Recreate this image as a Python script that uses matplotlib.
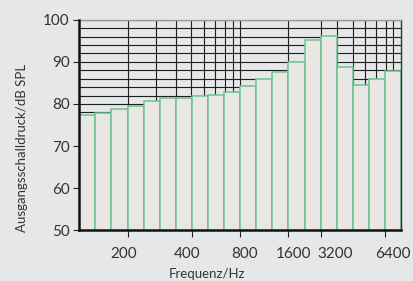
import matplotlib
matplotlib.use("Agg")
import matplotlib.pyplot as plt
import numpy as np

# third-octave bands and measured output level
bands = [100, 125, 160, 200, 250, 315, 400, 500, 630, 800,
         1000, 1250, 1600, 2000, 2500, 3150, 4000, 5000, 6300, 8000]
spl = [77.4, 77.9, 78.8, 79.5, 80.7, 81.4, 81.5, 82.0, 82.1, 82.9,
       84.2, 86.0, 87.6, 90.0, 95.1, 96.1, 88.8, 84.5, 85.9, 87.9]

tick_labels = ["200", "400", "800", "1600", "3200", "6400"]
tick_pos = [3, 7, 10, 13, 15, 19]
# labels in the original sit a bit off their tick marks
label_pos = [2.76, 6.73, 10.3, 13.32, 15.9, 19.5]

# vertical grid (log-ish grid of the original, in band index units)
grid_x = [3, 4.75, 6, 6.94, 7.77, 8.44, 9.04, 9.56, 10,
          13, 15, 16, 17, 17.78, 18.43, 19.05, 19.48]

bg = "#e6e7e9"
txt = "#333333"
plt.rcParams['font.family'] = ['Lato', 'DejaVu Sans']

fig = plt.figure(figsize=(4.13, 2.81), dpi=100, facecolor=bg)
ax = fig.add_axes([0.192, 0.180, 0.779, 0.750])
ax.set_facecolor(bg)

x = np.arange(len(bands))

# grid first, bars are opaque and cover it
for gy in range(50, 101, 2):
    ax.axhline(gy, color="#1e1e1e", lw=0.8, zorder=1)
for gx in grid_x:
    ax.axvline(gx, color="#1e1e1e", lw=0.8, zorder=1)

ax.bar(x, spl, width=1.0, align="edge", color="#e9e7e4",
       edgecolor="#6cc28d", linewidth=1.1, zorder=2)

ax.set_xlim(0, 20)
ax.set_ylim(50, 100)
ax.set_yticks(range(50, 101, 10))

# tick marks (major, no text) and labels (minor, no mark)
ax.set_xticks(tick_pos)
ax.set_xticklabels([""] * len(tick_pos))
ax.set_xticks(label_pos, minor=True)
ax.set_xticklabels(tick_labels, minor=True)

ax.tick_params(axis="y", direction="out", length=4, width=0.8,
               color="#222222", labelsize=11, labelcolor=txt, pad=3)
ax.tick_params(axis="x", which="major", direction="out", length=5, width=0.8,
               color="#222222")
ax.tick_params(axis="x", which="minor", length=0, labelsize=11,
               labelcolor=txt, pad=12)

for side in ["left", "bottom"]:
    ax.spines[side].set_linewidth(1.8)
    ax.spines[side].set_color("#111111")
    ax.spines[side].set_zorder(3)
ax.spines["top"].set_color("#999999")
ax.spines["top"].set_linewidth(1.0)
ax.spines["right"].set_color("#333333")
ax.spines["right"].set_linewidth(1.0)

ax.set_ylabel("Ausgangsschalldruck/dB SPL", fontsize=9.5, color=txt)
ax.yaxis.set_label_coords(-0.159, 0.39)
ax.set_xlabel("Frequenz/Hz", fontsize=9.5, color=txt)
ax.xaxis.set_label_coords(0.397, -0.18)

fig.savefig("out.png", dpi=100, facecolor=bg)
